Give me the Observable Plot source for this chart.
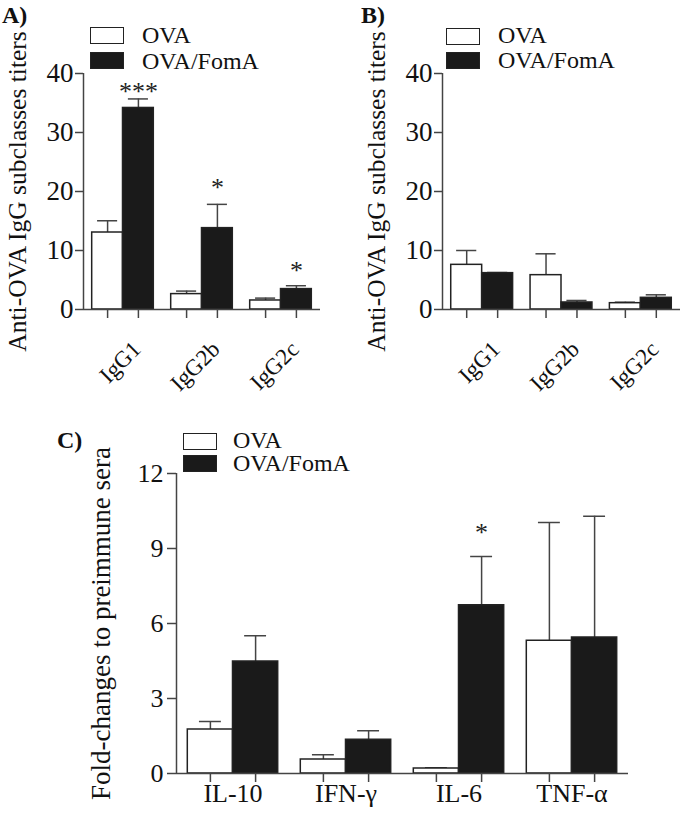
<!DOCTYPE html>
<html><head><meta charset="utf-8">
<script src="https://cdn.jsdelivr.net/npm/d3@7"></script>
<script src="https://cdn.jsdelivr.net/npm/@observablehq/plot@0.6"></script>
<style>
body{margin:0;background:#fff;font-family:"Liberation Serif","Times New Roman",serif;color:#111;}
#wrap{position:relative;width:680px;height:815px;overflow:hidden;}
.panel{position:absolute;}
.tag{position:absolute;font-weight:bold;font-size:24px;line-height:20px;white-space:nowrap;}
.lt{position:absolute;font-size:24px;white-space:pre;}
.sw{position:absolute;box-sizing:border-box;border:1.5px solid #222;}
</style></head><body><div id="wrap"></div>
<script>
// ---- data ----
const groups = ["OVA", "OVA/FomA"];
const catsAB = ["IgG1", "IgG2b", "IgG2c"];
// Panel A (means and SEM)
const ovaA = [13.05, 2.61, 1.53];
const ovaSemA = [1.99, 0.51, 0.40];
const fomaA = [34.16, 13.79, 3.46];
const fomaSemA = [1.53, 4.03, 0.57];
// Panel B
const ovaB = [7.57, 5.82, 1.07];
const ovaSemB = [2.43, 3.62, 0.17];
const fomaB = [6.16, 1.19, 1.98];
const fomaSemB = [0.11, 0.34, 0.51];
// Panel C
const catsC = ["IL-10", "IFN-γ", "IL-6", "TNF-α"];
const ovaC = [1.76, 0.56, 0.20, 5.31];
const ovaSemC = [0.32, 0.19, 0.03, 4.73];
const fomaC = [4.48, 1.35, 6.73, 5.44];
const fomaSemC = [1.03, 0.36, 1.95, 4.85];
// ticks and annotations
const ticksAB = [0, 10, 20, 30, 40];
const ticksC = [0, 3, 6, 9, 12];
const starsA = [{cat: "IgG1", y: 37.6, label: "***"}, {cat: "IgG2b", y: 21.4, label: "*"}, {cat: "IgG2c", y: 7.2, label: "*"}];
const starsB = [];
const starsC = [{cat: "IL-6", y: 9.8, label: "*"}];
const yLabelAB = "Anti-OVA IgG subclasses titers";
const yLabelC = "Fold-changes to preimmune sera";

const wrap = document.getElementById("wrap");
const FONT = "'Liberation Serif', 'Times New Roman', serif";
const AX = "#444";

function panel(cfg) {
  const {cats, ova, ovaSem, foma, fomaSem, stars, ticks, yMax, bw, cap} = cfg;
  const rows = [];
  cats.forEach((c, i) => {
    [[ova, ovaSem], [foma, fomaSem]].forEach(([m, s], g) => {
      const x1 = g === 0 ? i - bw : i;
      const x2 = g === 0 ? i : i + bw;
      rows.push({cat: c, i, g, group: groups[g], mean: m[i], sem: s[i], x1, x2, xc: (x1 + x2) / 2});
    });
  });
  const centers = rows.map(d => d.xc);
  const marks = [
    Plot.ruleX(rows, {x: "xc", y1: "mean", y2: d => d.mean + d.sem, stroke: AX, strokeWidth: 1.5}),
    Plot.ruleY(rows, {y: d => d.mean + d.sem, x1: d => d.xc - cap, x2: d => d.xc + cap, stroke: AX, strokeWidth: 1.5}),
    Plot.rect(rows, {x1: "x1", x2: "x2", y1: 0, y2: "mean", fill: d => d.g ? "#1a1a1a" : "#ffffff", stroke: "#222", strokeWidth: 1.5}),
    Plot.ruleY([0], {stroke: AX, strokeWidth: 1.5}),
    Plot.ruleX([-0.5], {stroke: AX, strokeWidth: 1.5}),
    Plot.axisY({ticks, tickSize: cfg.yTickSize, tickPadding: cfg.yTickPad, fontSize: cfg.yFont, fontFamily: FONT, label: null, stroke: AX, strokeWidth: 1.5, fill: "#111"}),
    Plot.axisX({ticks: centers, tickSize: 9, tickFormat: () => "", label: null, stroke: AX, strokeWidth: 1.5}),
    Plot.text([cfg.ylabel], {frameAnchor: "left", rotate: -90, textAnchor: "middle", dx: -cfg.labelOffset, lineAnchor: "top", fontSize: cfg.labelFont, fontFamily: FONT, fill: "#111"}),
    Plot.text(stars, {x: d => cats.indexOf(d.cat) + bw / 2, y: "y", text: "label", fontSize: 26, fontFamily: FONT, dy: 4, fill: "#222"})
  ];
  if (cfg.rotateX) {
    marks.push(Plot.text(cats, {x: (d, i) => i, frameAnchor: "bottom", rotate: -45, textAnchor: "end", lineAnchor: "middle", dx: cfg.xdx, dy: cfg.xdy, fontSize: cfg.xFont, fontFamily: FONT, fill: "#111"}));
  } else {
    marks.push(Plot.text(cats, {x: (d, i) => i, frameAnchor: "bottom", lineAnchor: "top", dy: cfg.xdy, fontSize: cfg.xFont, fontFamily: FONT, fill: "#111"}));
  }
  const svg = Plot.plot({
    width: cfg.width, height: cfg.height,
    marginLeft: cfg.ml, marginRight: cfg.mr, marginTop: cfg.mt, marginBottom: cfg.mb,
    x: {domain: [-0.5, cats.length - 0.5]},
    y: {domain: [0, yMax]},
    style: {fontFamily: FONT, background: "transparent", color: "#111", overflow: "visible"},
    marks
  });
  svg.classList.add("panel");
  svg.style.left = cfg.left + "px";
  svg.style.top = cfg.top + "px";
  wrap.appendChild(svg);
}

// one text block per legend, two lines; swatches beside each line
function legend(x, y1, y2, tx, b1, b2, sh) {
  [[y1, "#fff"], [y2, "#1a1a1a"]].forEach(([y, fill]) => {
    const s = document.createElement("div");
    s.className = "sw";
    Object.assign(s.style, {left: x + "px", top: y + "px", width: "34px", height: sh + "px", background: fill});
    wrap.appendChild(s);
  });
  const L = b2 - b1;
  const firstBase = (L - 26.6) / 2 + 21.4;
  const t = document.createElement("div");
  t.className = "lt";
  t.textContent = groups.join("\n");
  Object.assign(t.style, {left: tx + "px", top: (b1 - firstBase) + "px", lineHeight: L + "px"});
  wrap.appendChild(t);
}
function tag(txt, x, base) {
  const t = document.createElement("div");
  t.className = "tag";
  t.textContent = txt;
  Object.assign(t.style, {left: x + "px", top: (base - 18) + "px"});
  wrap.appendChild(t);
}

const common = {yTickSize: 8, yTickPad: 2, yFont: 27, labelFont: 25.5, labelOffset: 76, rotateX: true, xFont: 23, xdx: 14, xdy: 36, bw: 0.39, cap: 0.127, ticks: ticksAB, yMax: 40};
panel({...common, cats: catsAB, ova: ovaA, ovaSem: ovaSemA, foma: fomaA, fomaSem: fomaSemA, stars: starsA, ylabel: yLabelAB,
  width: 340, height: 400, ml: 83, mr: 20, mt: 73, mb: 91, left: 0, top: 0});
panel({...common, cats: catsAB, ova: ovaB, ovaSem: ovaSemB, foma: fomaB, fomaSem: fomaSemB, stars: starsB, ylabel: yLabelAB,
  width: 340, height: 400, ml: 102, mr: 0, mt: 73, mb: 91, left: 340, top: 0});
panel({cats: catsC, ova: ovaC, ovaSem: ovaSemC, foma: fomaC, fomaSem: fomaSemC, stars: starsC, ylabel: yLabelC,
  ticks: ticksC, yMax: 12, bw: 0.4, cap: 0.097, yTickSize: 9, yTickPad: 4, yFont: 26, labelFont: 27, labelOffset: 86,
  rotateX: false, xFont: 26, xdy: 10,
  width: 680, height: 415, ml: 176, mr: 52, mt: 73, mb: 42, left: 0, top: 400});

legend(90, 27, 52, 142, 43, 69, 17);
legend(446, 28, 52, 498, 44, 69, 17);
legend(183, 433, 455, 233, 449, 472, 17);
tag("A)", 2, 23);
tag("B)", 361, 23);
tag("C)", 57, 448);
</script></body></html>
